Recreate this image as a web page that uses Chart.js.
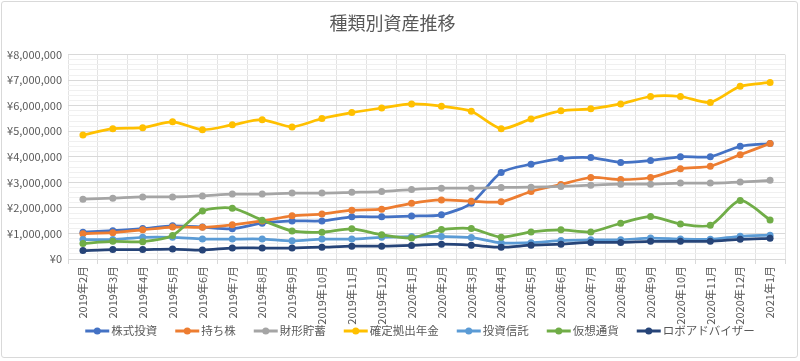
<!DOCTYPE html>
<html lang="ja">
<head>
<meta charset="utf-8">
<title>種類別資産推移</title>
<script src="https://cdn.jsdelivr.net/npm/chart.js@4.4.0/dist/chart.umd.min.js"></script>
<style>
    body { margin: 0; background: #fff; }
    #wrap { position: relative; width: 800px; height: 361px; }
    #frame {
        position: absolute; left: 1px; top: 1px; width: 795px; height: 355px;
        border: 1px solid #d9d9d9; border-radius: 3px;
    }
    #chart { position: absolute; left: 0; top: 0; }
</style>
</head>
<body>
<div id="wrap">
    <div id="frame"></div>
    <canvas id="chart" width="800" height="361"></canvas>
</div>
<script>
const months = [
    '2019年2月', '2019年3月', '2019年4月', '2019年5月', '2019年6月', '2019年7月',
    '2019年8月', '2019年9月', '2019年10月', '2019年11月', '2019年12月', '2020年1月',
    '2020年2月', '2020年3月', '2020年4月', '2020年5月', '2020年6月', '2020年7月',
    '2020年8月', '2020年9月', '2020年10月', '2020年11月', '2020年12月', '2021年1月'
];

// values in yen
const stocks = [1050000, 1110000, 1190000, 1300000, 1250000, 1180000, 1400000, 1490000, 1490000, 1650000, 1650000, 1680000,
    1730000, 2180000, 3390000, 3710000, 3930000, 3970000, 3780000, 3860000, 4000000, 4000000, 4410000, 4520000];
const ownShares = [990000, 1030000, 1140000, 1250000, 1240000, 1340000, 1490000, 1690000, 1760000, 1910000, 1950000, 2180000,
    2310000, 2260000, 2240000, 2640000, 2920000, 3190000, 3110000, 3190000, 3530000, 3630000, 4080000, 4520000];
const savings = [2340000, 2380000, 2430000, 2430000, 2470000, 2540000, 2540000, 2580000, 2580000, 2610000, 2640000, 2720000,
    2770000, 2770000, 2800000, 2810000, 2840000, 2890000, 2930000, 2930000, 2970000, 2970000, 3010000, 3080000];
const pension = [4850000, 5100000, 5140000, 5370000, 5060000, 5250000, 5450000, 5170000, 5500000, 5730000, 5910000, 6070000,
    5980000, 5780000, 5100000, 5480000, 5800000, 5880000, 6070000, 6360000, 6360000, 6130000, 6760000, 6910000];
const funds = [760000, 760000, 850000, 850000, 780000, 780000, 780000, 710000, 780000, 780000, 850000, 880000,
    880000, 840000, 630000, 640000, 720000, 750000, 750000, 820000, 780000, 770000, 890000, 930000];
const crypto = [610000, 690000, 680000, 920000, 1880000, 1990000, 1520000, 1100000, 1050000, 1180000, 950000, 820000,
    1150000, 1190000, 850000, 1060000, 1140000, 1060000, 1400000, 1660000, 1370000, 1320000, 2290000, 1530000];
const roboAdvisor = [330000, 370000, 370000, 390000, 350000, 430000, 430000, 430000, 460000, 500000, 500000, 530000,
    580000, 540000, 460000, 540000, 580000, 650000, 650000, 690000, 690000, 690000, 770000, 810000];

const seriesNames = ['株式投資', '持ち株', '財形貯蓄', '確定拠出年金', '投資信託', '仮想通貨', 'ロボアドバイザー'];
const seriesValues = [stocks, ownShares, savings, pension, funds, crypto, roboAdvisor];
const colors = ['#4472C4', '#ED7D31', '#A5A5A5', '#FFC000', '#5B9BD5', '#70AD47', '#264478'];

const FONT = '"Noto Sans CJK JP", "Noto Sans", sans-serif';
const TEXT = '#595959';

const datasets = seriesNames.map((name, i) => ({
    label: name,
    data: seriesValues[i],
    borderColor: colors[i],
    backgroundColor: colors[i],
    borderWidth: 2.75,
    pointRadius: 3.5,
    pointHoverRadius: 4,
    pointBorderWidth: 0,
    tension: 0.25,
    order: -i
}));

// spreadsheet style legend (line + dot), drawn under the x labels
const lineLegend = {
    id: 'lineLegend',
    afterDraw(chart) {
        const c = chart.ctx;
        const y = 331;
        c.save();
        c.font = '11.5px ' + FONT;
        c.textBaseline = 'middle';
        const widths = chart.data.datasets.map(ds => c.measureText(ds.label).width);
        const total = widths.reduce((s, w) => s + 26 + w, 0) + 18 * (widths.length - 1);
        let x = 420 - total / 2;
        chart.data.datasets.forEach((ds, i) => {
            c.strokeStyle = ds.borderColor;
            c.lineWidth = 3;
            c.beginPath();
            c.moveTo(x, y);
            c.lineTo(x + 24, y);
            c.stroke();
            c.fillStyle = ds.borderColor;
            c.beginPath();
            c.arc(x + 12, y, 3.5, 0, Math.PI * 2);
            c.fill();
            c.fillStyle = TEXT;
            c.fillText(ds.label, x + 26, y);
            x += 26 + widths[i] + 18;
        });
        c.restore();
    }
};

const ctx = document.getElementById('chart').getContext('2d');
new Chart(ctx, {
    type: 'line',
    data: { labels: months, datasets },
    plugins: [lineLegend],
    options: {
        responsive: false,
        animation: false,
        layout: { padding: { left: 0, right: 15, top: 0, bottom: 35 } },
        plugins: {
            title: {
                display: true,
                text: '種類別資産推移',
                color: TEXT,
                font: { family: FONT, size: 18, weight: 'normal' },
                padding: { top: 12, bottom: 21 }
            },
            legend: { display: false },
            tooltip: { enabled: false }
        },
        scales: {
            x: {
                offset: true,
                grid: {
                    offset: true,
                    color: '#e3e3e3',
                    tickLength: 5,
                    tickColor: '#d9d9d9'
                },
                border: { color: '#d9d9d9' },
                ticks: {
                    color: TEXT,
                    font: { family: FONT, size: 11 },
                    minRotation: 90,
                    maxRotation: 90,
                    autoSkip: false,
                    padding: 2
                },
                afterFit(scale) { scale.height = 67; }
            },
            y: {
                min: 0,
                max: 8000000,
                grid: {
                    drawTicks: false,
                    color: c => (c.tick && c.tick.value % 1000000 === 0) ? '#d9d9d9' : '#f0f0f0'
                },
                border: { display: false },
                ticks: {
                    stepSize: 200000,
                    autoSkip: false,
                    color: TEXT,
                    padding: 6,
                    font: { family: FONT, size: 11 },
                    callback: v => v % 1000000 === 0 ? '¥' + v.toLocaleString('en-US') : ''
                },
                afterFit(scale) { scale.width = 68; }
            }
        }
    }
});
</script>
</body>
</html>
